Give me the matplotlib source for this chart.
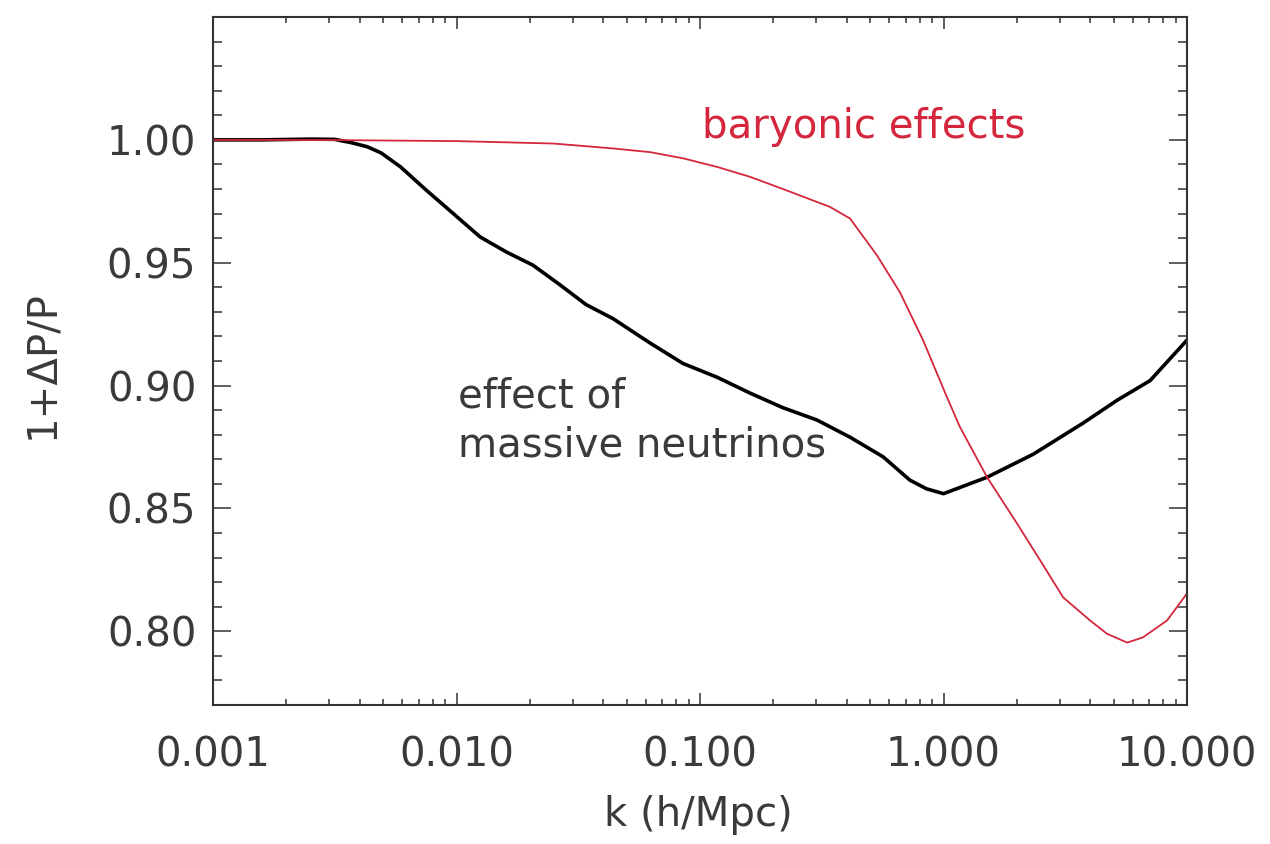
import numpy as np
import matplotlib
matplotlib.use("Agg")
import matplotlib.pyplot as plt
from matplotlib.ticker import FixedLocator, FormatStrFormatter, MultipleLocator, LogLocator

# effect of massive neutrinos (black)
k_nu = [0.001, 0.00158, 0.00251, 0.00316, 0.00372, 0.0043, 0.0049, 0.00589,
        0.0075, 0.0097, 0.0125, 0.016, 0.0206, 0.0266, 0.034, 0.044, 0.0624,
        0.0851, 0.1175, 0.160, 0.219, 0.302, 0.413, 0.565, 0.728, 0.851, 1.0,
        1.51, 2.33, 3.74, 5.16, 7.05, 10.0]
p_nu = [1.000, 1.000, 1.0003, 1.0002, 0.9988, 0.9972, 0.9947, 0.989,
        0.9796, 0.970, 0.9605, 0.9544, 0.949, 0.941, 0.933, 0.9272, 0.9173,
        0.909, 0.9034, 0.897, 0.891, 0.886, 0.879, 0.871, 0.8615, 0.858, 0.856,
        0.8627, 0.872, 0.8847, 0.894, 0.902, 0.9185]

# baryonic effects (red)
k_bar = [0.001, 0.00316, 0.01, 0.0251, 0.044, 0.0624, 0.0851, 0.1175, 0.160,
         0.219, 0.342, 0.413, 0.533, 0.662, 0.824, 1.033, 1.17, 1.51, 2.00,
         2.49, 3.10, 4.00, 4.69, 5.68, 6.59, 8.28, 10.0]
p_bar = [1.000, 0.9999, 0.9995, 0.9985, 0.9965, 0.995, 0.9925, 0.989, 0.985,
         0.980, 0.9727, 0.968, 0.953, 0.938, 0.9185, 0.8953, 0.883, 0.8627, 0.844,
         0.829, 0.8138, 0.8044, 0.799, 0.7954, 0.7975, 0.8044, 0.8154]

xticks = [0.001, 0.01, 0.1, 1.0, 10.0]
yticks = [0.80, 0.85, 0.90, 0.95, 1.00]

txt = "#3a3a3a"
red = "#d4263c"

plt.rcParams["font.family"] = "DejaVu Sans"
fig = plt.figure(figsize=(12.7, 8.44), dpi=100)
ax = fig.add_axes([213 / 1270, 1 - 705 / 844, 974 / 1270, 688 / 844])

ax.plot(k_nu, p_nu, color="black", lw=2.6, solid_joinstyle="round")
ax.plot(k_bar, p_bar, color=red, lw=1.3)

ax.set_xscale("log")
ax.set_xlim(0.001, 10)
ax.set_ylim(0.77, 1.05)

ax.xaxis.set_major_locator(FixedLocator(xticks))
ax.xaxis.set_major_formatter(FormatStrFormatter("%.3f"))
ax.xaxis.set_minor_locator(LogLocator(base=10, subs=np.arange(2, 10)))
ax.yaxis.set_major_locator(FixedLocator(yticks))
ax.yaxis.set_major_formatter(FormatStrFormatter("%.2f"))
ax.yaxis.set_minor_locator(MultipleLocator(0.01))

ax.tick_params(which="both", direction="in", top=True, right=True,
               color="#333333", width=1.1, labelsize=29, labelcolor=txt)
ax.tick_params(axis="x", which="major", length=8.5, pad=22)
ax.tick_params(axis="x", which="minor", length=4.5)
ax.tick_params(axis="y", which="major", length=13, pad=12)
ax.tick_params(axis="y", which="minor", length=6.5)
for s in ax.spines.values():
    s.set_color("#333333")
    s.set_linewidth(1.5)

ax.text(0.102, 1.0053, "baryonic effects", color=red, fontsize=29,
        ha="left", va="center")
ax.text(0.01015, 0.8855, "effect of\nmassive neutrinos", color=txt, fontsize=29,
        ha="left", va="center", linespacing=1.3)

fig.text(42 / 1270, 1 - 365 / 844, "1+ΔP/P", rotation=90, fontsize=29,
         color=txt, ha="center", va="center")
fig.text(698 / 1270, 1 - 815 / 844, "k (h/Mpc)", fontsize=29,
         color=txt, ha="center", va="center")

fig.savefig("out.png", dpi=100)
